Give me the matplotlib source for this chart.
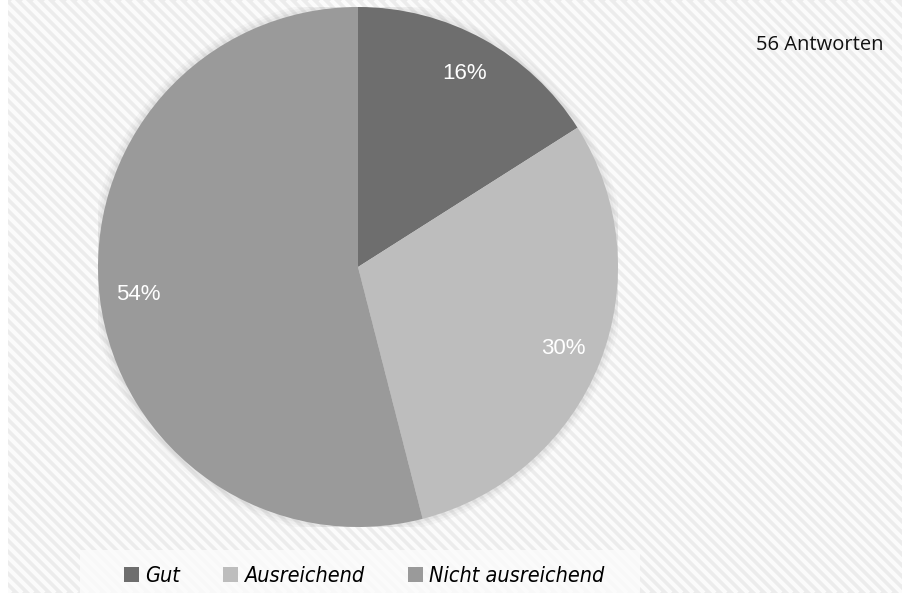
import numpy as np
import matplotlib.pyplot as plt
import matplotlib.patches as mpatches
from matplotlib.collections import LineCollection
from matplotlib import font_manager

# Data
labels = ['Gut', 'Ausreichend', 'Nicht ausreichend']
shares = [16, 30, 54]
colors = ['#6e6e6e', '#bdbdbd', '#9a9a9a']
total_answers = 56

W, H = 902, 593
fig = plt.figure(figsize=(W / 100, H / 100), dpi=100)
fig.patch.set_facecolor('#ffffff')

# striped background (pixel coordinates)
bg = fig.add_axes([8 / W, 0, 1 - 8 / W, 1], zorder=-5)
bg.set_xlim(8, W)
bg.set_ylim(0, H)
bg.axis('off')
bg.add_patch(mpatches.Rectangle((8, 0), W, H, facecolor='#ececec', edgecolor='none'))
period = 11
offsets = np.arange(-H, W + H, period)
segs = [[(c, H), (c + H, 0)] for c in offsets]
bg.add_collection(LineCollection(segs, colors='#fbfbfb', linewidths=3.0))
# light panel behind the legend
bg.add_patch(mpatches.Rectangle((80, 0), 560, 43, facecolor='#fafafa', edgecolor='none',
                                alpha=0.9))

# pie axes, centre ~ (358, 267) px, radius ~ 260 px
cx, cy, r = 358, H - 267, 260
ax = fig.add_axes([(cx - r) / W, (cy - r) / H, 2 * r / W, 2 * r / H])

wedges, texts, autotexts = ax.pie(shares, colors=colors, startangle=90, counterclock=False,
                                  radius=1, autopct='%d%%', pctdistance=0.85,
                                  textprops={'color': 'white', 'fontsize': 16,
                                             'family': 'Liberation Sans'})
ax.set_xlim(-1, 1)
ax.set_ylim(-1, 1)
ax.axis('off')

# soft shadow around the pie
for k, a in [(1.03, 0.05), (1.02, 0.06), (1.01, 0.08)]:
    ax.add_patch(mpatches.Circle((0, 0), k, facecolor='#888888', edgecolor='none',
                                 alpha=a, zorder=0))

fig.text(884 / W, 1 - 45 / H, f'{total_answers} Antworten', ha='right', va='center',
         fontsize=14.5, family='Open Sans', stretch='semi-condensed', color='#111111')

legend_font = font_manager.FontProperties(family='DejaVu Sans', stretch='condensed',
                                          style='italic', size=15.5)
handles = [mpatches.Patch(facecolor=c, edgecolor='none') for c in colors]
leg = fig.legend(handles, labels, loc='center', bbox_to_anchor=(364 / W, 1 - 576 / H),
                 ncol=3, frameon=False, handlelength=0.7, handleheight=0.7,
                 columnspacing=2.0, handletextpad=0.3, prop=legend_font)

fig.savefig('out.png', dpi=100)
